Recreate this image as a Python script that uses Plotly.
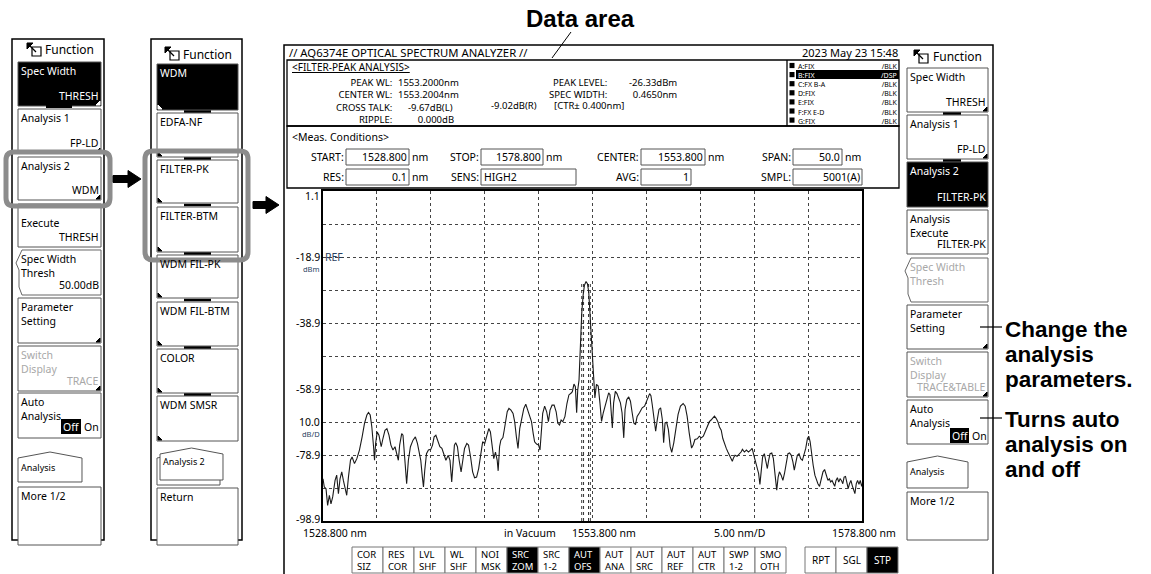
import plotly.graph_objects as go

W, H = 1151, 574
UI = "Noto Sans, Open Sans, sans-serif"
BOLD = "Liberation Sans, Arial, sans-serif"

# ---------------- data ----------------
wavelength_nm = [
    1528.80, 1528.92, 1529.08, 1529.23, 1529.39, 1529.54, 1529.70, 1529.92, 1530.07, 1530.23,
    1530.38, 1530.54, 1530.69, 1530.85, 1531.00, 1531.16, 1531.35, 1531.50, 1531.72, 1531.94,
    1532.18, 1532.43, 1532.65, 1532.87, 1533.02, 1533.18, 1533.33, 1533.49, 1533.58, 1533.68,
    1533.83, 1533.99, 1534.20, 1534.36, 1534.55, 1534.73, 1534.92, 1535.10, 1535.29, 1535.48,
    1535.66, 1535.79, 1535.91, 1536.10, 1536.22, 1536.35, 1536.47, 1536.56, 1536.72, 1536.91,
    1537.15, 1537.37, 1537.56, 1537.71, 1537.87, 1538.02, 1538.12, 1538.24, 1538.40, 1538.58,
    1538.80, 1538.96, 1539.11, 1539.27, 1539.45, 1539.64, 1539.83, 1540.01, 1540.20, 1540.42,
    1540.58, 1540.74, 1540.86, 1540.99, 1541.11, 1541.27, 1541.43, 1541.61, 1541.77, 1541.93,
    1542.14, 1542.30, 1542.49, 1542.68, 1542.86, 1543.05, 1543.24, 1543.43, 1543.61, 1543.80,
    1543.99, 1544.18, 1544.33, 1544.49, 1544.64, 1544.80, 1544.96, 1545.05, 1545.18, 1545.30,
    1545.49, 1545.61, 1545.74, 1545.89, 1546.05, 1546.24, 1546.43, 1546.58, 1546.74, 1546.89,
    1547.05, 1547.24, 1547.43, 1547.61, 1547.80, 1547.99, 1548.14, 1548.30, 1548.43, 1548.61,
    1548.80, 1548.93, 1549.05, 1549.18, 1549.36, 1549.55, 1549.71, 1549.86, 1550.05, 1550.24,
    1550.43, 1550.58, 1550.74, 1550.89, 1551.05, 1551.24, 1551.43, 1551.61, 1551.80, 1551.93,
    1552.08, 1552.21, 1552.33, 1552.43, 1552.55, 1552.68, 1552.80, 1552.93, 1553.05, 1553.20,
    1553.33, 1553.45, 1553.55, 1553.65, 1553.80, 1553.89, 1554.02, 1554.17, 1554.33, 1554.49,
    1554.64, 1554.80, 1554.98, 1555.14, 1555.30, 1555.42, 1555.54, 1555.64, 1555.76, 1555.92,
    1556.07, 1556.23, 1556.39, 1556.54, 1556.70, 1556.82, 1556.98, 1557.16, 1557.32, 1557.48,
    1557.63, 1557.79, 1557.94, 1558.16, 1558.41, 1558.63, 1558.78, 1558.94, 1559.10, 1559.22,
    1559.34, 1559.50, 1559.66, 1559.81, 1559.97, 1560.12, 1560.28, 1560.40, 1560.53, 1560.68,
    1560.84, 1561.00, 1561.15, 1561.34, 1561.53, 1561.74, 1561.96, 1562.21, 1562.40, 1562.58,
    1562.77, 1562.99, 1563.15, 1563.30, 1563.52, 1563.71, 1563.89, 1564.08, 1564.27, 1564.45,
    1564.64, 1564.80, 1564.96, 1565.11, 1565.27, 1565.43, 1565.58, 1565.74, 1565.89, 1566.05,
    1566.21, 1566.36, 1566.52, 1566.68, 1566.77, 1566.89, 1567.02, 1567.21, 1567.39, 1567.58,
    1567.71, 1567.89, 1568.08, 1568.27, 1568.46, 1568.61, 1568.77, 1568.93, 1569.08, 1569.21,
    1569.33, 1569.46, 1569.58, 1569.74, 1569.89, 1570.02, 1570.14, 1570.27, 1570.43, 1570.58,
    1570.74, 1570.89, 1571.02, 1571.14, 1571.30, 1571.46, 1571.61, 1571.77, 1571.93, 1572.08,
    1572.24, 1572.39, 1572.52, 1572.64, 1572.80, 1572.96, 1573.11, 1573.27, 1573.43, 1573.58,
    1573.74, 1573.86, 1573.99, 1574.11, 1574.27, 1574.43, 1574.58, 1574.71, 1574.86, 1575.02,
    1575.18, 1575.33, 1575.49, 1575.64, 1575.77, 1575.89, 1576.02, 1576.14, 1576.27, 1576.39,
    1576.52, 1576.64, 1576.77, 1576.89, 1577.02, 1577.14, 1577.27, 1577.39, 1577.52, 1577.64,
    1577.77, 1577.89, 1578.02, 1578.14, 1578.27, 1578.39, 1578.52, 1578.64, 1578.77, 1578.80,
]
level_dbm = [
    -86.1, -88.6, -89.1, -94.2, -91.1, -93.7, -91.6, -86.6, -85.0, -90.6,
    -86.1, -84.0, -86.6, -89.6, -91.1, -85.6, -80.5, -79.5, -81.5, -80.0,
    -77.4, -73.4, -69.3, -66.8, -66.0, -66.8, -70.4, -76.4, -80.5, -75.4,
    -71.9, -72.9, -76.4, -73.9, -71.4, -70.9, -72.9, -75.9, -77.4, -76.4,
    -78.5, -80.5, -75.9, -72.4, -72.9, -79.5, -84.5, -87.6, -80.5, -76.4,
    -74.4, -73.4, -75.4, -78.0, -80.5, -85.6, -88.6, -83.5, -78.5, -77.4,
    -77.2, -75.9, -73.4, -72.9, -74.9, -76.4, -76.9, -78.5, -80.5, -79.0,
    -80.5, -87.1, -81.5, -75.9, -75.2, -76.4, -80.5, -84.0, -80.5, -76.9,
    -75.4, -75.9, -79.5, -84.0, -85.8, -85.6, -83.0, -78.0, -74.9, -75.4,
    -72.9, -70.9, -71.9, -75.9, -80.0, -78.0, -80.5, -83.7, -76.4, -74.4,
    -73.6, -71.4, -68.3, -65.8, -64.8, -65.3, -66.3, -68.8, -73.4, -76.9,
    -70.9, -67.3, -64.8, -63.5, -65.3, -67.3, -68.8, -72.4, -74.9, -75.6,
    -75.9, -77.4, -70.9, -66.3, -64.1, -65.8, -68.8, -65.3, -63.8, -63.8,
    -65.8, -69.3, -69.8, -68.3, -68.8, -67.3, -63.3, -60.7, -60.2, -59.7,
    -57.4, -58.2, -66.1, -59.2, -56.2, -45.0, -36.0, -30.5, -27.5, -26.33,
    -27.0, -29.5, -34.8, -40.8, -48.9, -56.0, -61.6, -57.5, -58.0, -63.1,
    -68.7, -66.1, -64.1, -62.6, -60.1, -60.6, -65.1, -70.7, -63.1, -59.6,
    -60.3, -62.1, -63.1, -66.1, -73.7, -65.1, -62.1, -61.3, -62.6, -66.1,
    -69.2, -69.7, -67.2, -66.1, -64.6, -64.1, -63.1, -61.6, -60.3, -60.9,
    -63.6, -67.2, -71.7, -68.2, -65.1, -64.6, -68.2, -75.2, -69.2, -69.0,
    -71.2, -76.3, -78.1, -75.2, -71.2, -66.6, -64.1, -63.3, -64.1, -67.2,
    -72.2, -76.8, -75.8, -74.2, -74.0, -73.2, -73.7, -73.2, -71.7, -70.2,
    -68.8, -68.3, -67.5, -67.1, -67.8, -68.8, -70.4, -71.4, -73.9, -75.6,
    -76.9, -78.0, -79.3, -80.3, -80.8, -79.7, -79.0, -79.3, -78.7, -78.0,
    -77.2, -78.0, -77.4, -78.0, -77.4, -76.9, -79.0, -81.0, -82.0, -84.5,
    -87.8, -82.5, -79.5, -78.5, -80.5, -83.0, -80.5, -78.5, -78.3, -80.0,
    -85.0, -89.6, -85.6, -84.0, -85.0, -86.6, -84.5, -81.0, -78.5, -78.3,
    -79.0, -81.0, -83.5, -81.5, -79.0, -78.5, -80.0, -80.5, -79.0, -76.9,
    -73.9, -73.2, -74.9, -78.5, -82.0, -85.0, -86.6, -87.6, -88.4, -86.6,
    -84.0, -83.3, -85.0, -86.6, -86.1, -87.1, -86.6, -87.8, -88.4, -86.6,
    -85.8, -87.1, -86.1, -86.6, -87.6, -85.6, -85.4, -87.1, -89.1, -87.6,
    -86.6, -88.1, -89.6, -90.6, -87.6, -86.6, -87.8, -86.6, -88.4, -87.6,
]
analysis_marker_nm = [1552.80, 1552.97, 1553.43, 1553.60]
peak_level_dbm = -26.33
x_start_nm, x_stop_nm = 1528.8, 1578.8
y_top_dbm, y_bottom_dbm = 1.1, -98.9
y_label_values = [1.1, -18.9, -38.9, -58.9, -68.9, -78.9, -98.9]
y_label_texts = ["1.1", "-18.9", "-38.9", "-58.9", "10.0", "-78.9", "-98.9"]
x_label_texts = ["1528.800 nm", "in Vacuum", "1553.800 nm", "5.00 nm/D", "1578.800 nm"]
soft_keys = ["COR|SIZ", "RES|COR", "LVL|SHF", "WL|SHF", "NOI|MSK", "SRC|ZOM", "SRC|1-2",
             "AUT|OFS", "AUT|ANA", "AUT|SRC", "AUT|REF", "AUT|CTR", "SWP|1-2", "SMO|OTH"]
soft_keys_on = ["SRC|ZOM", "AUT|OFS"]
sweep_keys = ["RPT", "SGL", "STP"]
trace_names = ["A:FIX", "B:FIX", "C:FX B-A", "D:FIX", "E:FIX", "F:FX E-D", "G:FIX"]
trace_states = ["/BLK", "/DSP", "/BLK", "/BLK", "/BLK", "/BLK", "/BLK"]
active_trace = 1

# ---------------- helpers ----------------
shapes, ann = [], []


def px(x):
    return x / W


def py(y):
    return 1 - y / H


def rect(x0, y0, x1, y1, color="#000", width=1, fill="rgba(0,0,0,0)"):
    shapes.append(dict(type="rect", xref="paper", yref="paper", x0=px(x0), x1=px(x1),
                       y0=py(y1), y1=py(y0), line=dict(color=color, width=width),
                       fillcolor=fill, layer="above"))


def seg(x0, y0, x1, y1, color="#000", width=1):
    shapes.append(dict(type="line", xref="paper", yref="paper", x0=px(x0), x1=px(x1),
                       y0=py(y0), y1=py(y1), line=dict(color=color, width=width), layer="above"))


def poly(pts, fill="rgba(0,0,0,0)", color="#000", width=1):
    d = "M " + " L ".join(f"{px(x):.5f},{py(y):.5f}" for x, y in pts) + " Z"
    shapes.append(dict(type="path", xref="paper", yref="paper", path=d, fillcolor=fill,
                       line=dict(color=color, width=width), layer="above"))


def rrect(x0, y0, x1, y1, r, color, width):
    f = lambda x, y: f"{px(x):.5f},{py(y):.5f}"
    d = (f"M {f(x0 + r, y0)} L {f(x1 - r, y0)} Q {f(x1, y0)} {f(x1, y0 + r)} "
         f"L {f(x1, y1 - r)} Q {f(x1, y1)} {f(x1 - r, y1)} L {f(x0 + r, y1)} "
         f"Q {f(x0, y1)} {f(x0, y1 - r)} L {f(x0, y0 + r)} Q {f(x0, y0)} {f(x0 + r, y0)} Z")
    shapes.append(dict(type="path", xref="paper", yref="paper", path=d,
                       line=dict(color=color, width=width), layer="above"))


def txt(x, y, s, size=11, color="#000", xa="left", ya="middle", family=UI, align=None):
    a = dict(xref="paper", yref="paper", x=px(x), y=py(y), text=s, showarrow=False,
             xanchor=xa, yanchor=ya, borderpad=0,
             font=dict(size=size, color=color, family=family))
    if align:
        a["align"] = align
    ann.append(a)


BTN = 10.5


def button(x0, y0, x1, y1, top=(), br=None, black=False, gray=False, tri=None, notch=False):
    fill = "#000" if black else "#fff"
    if notch:
        poly([(x0 + 4, y0), (x1, y0), (x1, y1), (x0 + 4, y1), (x0 + 1, y1 - 8),
              (x0 + 1, y0 + 20), (x0 - 2, y0 + 13)], fill=fill, color="#666")
    else:
        rect(x0, y0, x1, y1, color="#555", width=1, fill=fill)
    tc = "#fff" if black else ("#a8a8a8" if gray else "#000")
    if top:
        txt(x0 + 2, y0 + 1, "<br>".join(top), size=BTN, color=tc, ya="top", align="left")
    if br:
        txt(x1 - 1, y1 - 10, br, size=BTN, color=tc, xa="right")
    tcol = "#fff" if black else "#000"
    if tri == "r":
        poly([(x1 - 5, y1 - 1), (x1 - 1, y1 - 1), (x1 - 1, y1 - 5)], fill=tcol, color=tcol)
    elif tri == "l":
        poly([(x0 + 1, y1 - 5), (x0 + 1, y1 - 1), (x0 + 5, y1 - 1)], fill=tcol, color=tcol)


def func_icon(x, y):
    rect(x + 5, y + 4, x + 14, y + 13, color="#000", width=1.2, fill="#fff")
    seg(x + 1, y + 1, x + 9, y + 9, width=1.2)
    poly([(x, y), (x + 6, y), (x, y + 6)], fill="#000", color="#000")


def tab(x0, y0, x1, y1):
    mid = (x0 + x1) / 2
    poly([(x0, y0 + 6), (mid, y0), (x1, y0 + 6), (x1, y1), (x0, y1)], fill="#fff", color="#555")


def arrow(x0, x1, yc):
    poly([(x0, yc - 3.5), (x1 - 13, yc - 3.5), (x1 - 13, yc - 8.5), (x1, yc),
          (x1 - 13, yc + 8.5), (x1 - 13, yc + 3.5), (x0, yc + 3.5)], fill="#000", color="#000")


# ---------------- left panel 1 ----------------
rect(12, 39, 104, 540, width=1.5)
func_icon(27, 43)
txt(44, 50, "Function", size=12)
p1x0, p1x1 = 18, 101
button(p1x0, 62, p1x1, 106, ["Spec Width"], "THRESH", black=True, tri="r")
rect(46, 105, 72, 108, color="#000", width=0, fill="#000")
button(p1x0, 109, p1x1, 153, ["Analysis 1"], "FP-LD", tri="r")
button(p1x0, 157, p1x1, 200, ["Analysis 2"], "WDM", tri="r")
button(p1x0, 204, p1x1, 247, [], "THRESH")
txt(p1x0 + 2, 223, "Execute", size=BTN)
button(p1x0, 250, p1x1, 295, ["Spec Width", "Thresh"], "50.00dB", notch=True)
button(p1x0, 298, p1x1, 343, ["Parameter", "Setting"], None, tri="r")
button(p1x0, 346, p1x1, 391, ["Switch", "Display"], "TRACE", gray=True, tri="r")
button(p1x0, 393, p1x1, 438, ["Auto", "Analysis"])
rect(61, 419, 81, 434, color="#000", width=0, fill="#000")
txt(62, 427, "Off", size=BTN, color="#fff")
txt(83, 427, "On", size=BTN)
tab(p1x0, 452, 82, 482)
txt(p1x0 + 2, 467, "Analysis", size=9)
button(p1x0, 487, p1x1, 545, ["More 1/2"])
rrect(6, 152, 110, 206, 8, "#8c8c8c", 5)

# ---------------- left panel 2 ----------------
rect(151, 39, 242, 540, width=1.5)
func_icon(165, 47)
txt(182, 54, "Function", size=12)
p2x0, p2x1 = 157, 238
button(p2x0, 64, p2x1, 110, ["WDM"], black=True, tri="l")
button(p2x0, 113, p2x1, 157, ["EDFA-NF"], tri="l")
button(p2x0, 160, p2x1, 203, ["FILTER-PK"], tri="l")
button(p2x0, 207, p2x1, 252, ["FILTER-BTM"], tri="l")
button(p2x0, 255, p2x1, 298, ["WDM FIL-PK"], tri="l")
button(p2x0, 302, p2x1, 346, ["WDM FIL-BTM"], tri="l")
button(p2x0, 349, p2x1, 393, ["COLOR"], tri="l")
button(p2x0, 396, p2x1, 441, ["WDM SMSR"], tri="l")
for gy in [111.5, 158.5, 205, 253.5, 300, 347.5, 394.5]:
    rect(184, gy - 1.2, 211, gy + 1.2, color="#000", width=0, fill="#000")
tab(p2x0, 452, 220, 485)
tab(p2x0 + 3, 448, 223, 480)
txt(p2x0 + 5, 461, "Analysis 2", size=9)
button(p2x0, 488, p2x1, 545, ["Return"])
rrect(145, 151, 248, 260, 8, "#8c8c8c", 5)

arrow(113, 141, 179)
arrow(253, 279, 205)

# ---------------- screen ----------------
rect(284, 45, 993, 600, width=1.5)
txt(288, 52, "// AQ6374E OPTICAL SPECTRUM ANALYZER //", size=11.3)
txt(899, 52, "2023 May 23 15:48", size=11, xa="right")
rect(287, 60, 899, 126, width=1.3)
rect(287, 126, 899, 188, width=1.3)
seg(787, 60, 787, 126, width=1.3)

AN = 9.5
txt(291, 67, "<u>&lt;FILTER-PEAK ANALYSIS&gt;</u>", size=10)
txt(393, 74.8, "PEAK WL:<br>CENTER WL:<br>CROSS TALK:<br>RIPPLE:", size=AN, xa="right",
    ya="top", align="right")
nb = "&nbsp;"
txt(397, 74.8, "1553.2000nm<br>1553.2004nm<br>" + nb * 4 + "-9.67dB(L)<br>" + nb * 8 + "0.000dB",
    size=AN, ya="top", align="left")
txt(490, 105.5, "-9.02dB(R)", size=AN)
txt(553, 105.5, "[CTR± 0.400nm]", size=AN)
txt(608, 74.8, "PEAK LEVEL:<br>SPEC WIDTH:", size=AN, xa="right", ya="top", align="right")
txt(678, 74.8, "-26.33dBm<br>0.4650nm", size=AN, xa="right", ya="top", align="right")

# trace list (two columns, one text block each)
rect(796, 65.5 + active_trace * 9.1 - 4.5, 899, 65.5 + active_trace * 9.1 + 4.5,
     color="#000", width=0, fill="#000")
for i in range(len(trace_names)):
    yc = 65.5 + i * 9.1
    rect(789.5, yc - 2.6, 794.5, yc + 2.6, color="#000", width=0, fill="#000")
names = [f"<span style='color:#fff'>{n}</span>" if i == active_trace else n
         for i, n in enumerate(trace_names)]
states = [f"<span style='color:#fff'>{s}</span>" if i == active_trace else s
          for i, s in enumerate(trace_states)]
txt(797, 61.3, "<br>".join(names), size=7, ya="top", align="left")
txt(898, 61.3, "<br>".join(states), size=7, xa="right", ya="top", align="right")

txt(291, 137, "&lt;Meas. Conditions&gt;", size=10.5)

meas = [
    (345, 346, 409, 157, "START:", "1528.800", "nm", False),
    (480, 481, 543, 157, "STOP:", "1578.800", "nm", False),
    (640, 641, 705, 157, "CENTER:", "1553.800", "nm", False),
    (792, 793, 842, 157, "SPAN:", "50.0", "nm", False),
    (345, 346, 409, 177, "RES:", "0.1", "nm", False),
    (480, 481, 576, 177, "SENS:", "HIGH2", None, True),
    (640, 641, 691, 177, "AVG:", "1", None, False),
    (792, 793, 862, 177, "SMPL:", "5001(A)", None, False),
]
for lr, bx0, bx1, yc, lab, val, unit, left in meas:
    txt(lr, yc, lab, size=10.5, xa="right")
    rect(bx0, yc - 8, bx1, yc + 8, color="#555", width=1)
    if left:
        txt(bx0 + 2, yc, val, size=10.5)
    else:
        txt(bx1 - 1, yc, val, size=10.5, xa="right")
    if unit:
        txt(bx1 + 2, yc, unit, size=10.5)

# y labels (placed through the y axis)
for v, s in zip(y_label_values, y_label_texts):
    shift = -5 if v == y_top_dbm else (2 if v == y_bottom_dbm else 0)
    ann.append(dict(xref="paper", yref="y", x=px(321), y=v, yshift=shift, text=s,
                    showarrow=False, xanchor="right", yanchor="middle", borderpad=0,
                    font=dict(size=10.5, color="#000", family=UI)))
ann.append(dict(xref="paper", yref="y", x=px(324), y=-18.9, text="REF", showarrow=False,
                xanchor="left", yanchor="middle", borderpad=0, font=dict(size=10.5, family=UI)))
for v, s in [(-18.9, "dBm"), (-68.9, "dB/D")]:
    ann.append(dict(xref="paper", yref="y", x=px(321), y=v, yshift=-12, text=s,
                    showarrow=False, xanchor="right", yanchor="middle", borderpad=0,
                    font=dict(size=7.5, family=UI)))

# x labels
xl_pos = [(302, "left"), (503, "left"), (571, "left"), (713, "left"), (897, "right")]
for (xx, xa), s in zip(xl_pos, x_label_texts):
    txt(xx, 533, s, size=10.5, xa=xa)

# soft keys
kx = 352
for k in soft_keys:
    on = k in soft_keys_on
    rect(kx, 547, kx + 31, 573, color="#777", width=1, fill="#000" if on else "#fff")
    c = "#fff" if on else "#000"
    txt(kx + 4, 560, k.replace("|", "<br>"), size=9.5, color=c, align="left")
    kx += 31
kx = 805
for k in sweep_keys:
    on = k == "STP"
    rect(kx, 547, kx + 31, 573, color="#777", width=1, fill="#000" if on else "#fff")
    txt(kx + 15.5, 560, k, size=10, color="#fff" if on else "#000", xa="center")
    kx += 31

# ---------------- right panel (inside screen) ----------------
func_icon(914, 50)
txt(932, 57, "Function", size=12)
rx0, rx1 = 907, 988
button(rx0, 68, rx1, 112, ["Spec Width"], "THRESH", tri="r")
button(rx0, 115, rx1, 159, ["Analysis 1"], "FP-LD", tri="r")
button(rx0, 162, rx1, 207, ["Analysis 2"], "FILTER-PK", black=True)
for gy in [113.5, 160.5]:
    rect(943, gy - 1.2, 961, gy + 1.2, color="#000", width=0, fill="#000")
button(rx0, 210, rx1, 254, ["Analysis", "Execute"], "FILTER-PK")
button(rx0, 258, rx1, 302, ["Spec Width", "Thresh"], None, gray=True, notch=True)
button(rx0, 305, rx1, 349, ["Parameter", "Setting"], None, tri="r")
button(rx0, 352, rx1, 397, ["Switch", "Display"], "TRACE&amp;TABLE", gray=True, tri="r")
button(rx0, 400, rx1, 444, ["Auto", "Analysis"])
rect(950, 428, 969, 443, color="#000", width=0, fill="#000")
txt(951, 435.5, "Off", size=BTN, color="#fff")
txt(971, 435.5, "On", size=BTN)
tab(rx0, 456, 968, 488)
txt(rx0 + 2, 471, "Analysis", size=9)
button(rx0, 492, rx1, 540, ["More 1/2"])

# ---------------- callouts ----------------
CF = 22.5
txt(580, 19, "<b>Data area</b>", size=24, family=BOLD, xa="center")
seg(571, 32, 552, 58, width=1)
seg(980, 327, 1002, 327, width=1.2)
seg(980, 418, 1002, 418, width=1.2)
for i, s in enumerate(["Change the", "analysis", "parameters."]):
    txt(1004, 329 + i * 25.3, f"<b>{s}</b>", size=CF, family=BOLD)
for i, s in enumerate(["Turns auto", "analysis on", "and off"]):
    txt(1004, 419 + i * 25.3, f"<b>{s}</b>", size=CF, family=BOLD)

# ---------------- figure ----------------
fig = go.Figure()
for m in analysis_marker_nm:
    fig.add_trace(go.Scatter(x=[m, m], y=[y_bottom_dbm, peak_level_dbm - 0.5], mode="lines",
                             line=dict(color="#333", width=1, dash="dot"), hoverinfo="skip",
                             showlegend=False))
fig.add_trace(go.Scatter(x=wavelength_nm, y=level_dbm, mode="lines",
                         line=dict(color="#1a1a1a", width=1.1), showlegend=False,
                         name="Trace B"))

fig.update_layout(
    width=W, height=H, margin=dict(l=0, r=0, t=0, b=0),
    paper_bgcolor="#fff", plot_bgcolor="#fff", showlegend=False,
    shapes=shapes, annotations=ann,
    xaxis=dict(domain=[px(323), px(862)], range=[x_start_nm, x_stop_nm], tick0=x_start_nm,
               dtick=5, showticklabels=False, ticks="", showgrid=True, gridcolor="#444",
               griddash="dot", gridwidth=1, zeroline=False, showline=True, mirror=True,
               linecolor="#000", linewidth=1.5, fixedrange=True),
    yaxis=dict(domain=[py(521), py(191)], range=[y_bottom_dbm, y_top_dbm], tick0=y_top_dbm,
               dtick=10, showticklabels=False, ticks="", showgrid=True, gridcolor="#444",
               griddash="dot", gridwidth=1, zeroline=False, showline=True, mirror=True,
               linecolor="#000", linewidth=1.5, fixedrange=True),
)

fig.write_html("out.html", config={"displayModeBar": False},
               post_script="document.body.style.margin='0';document.body.style.overflow='hidden';")
